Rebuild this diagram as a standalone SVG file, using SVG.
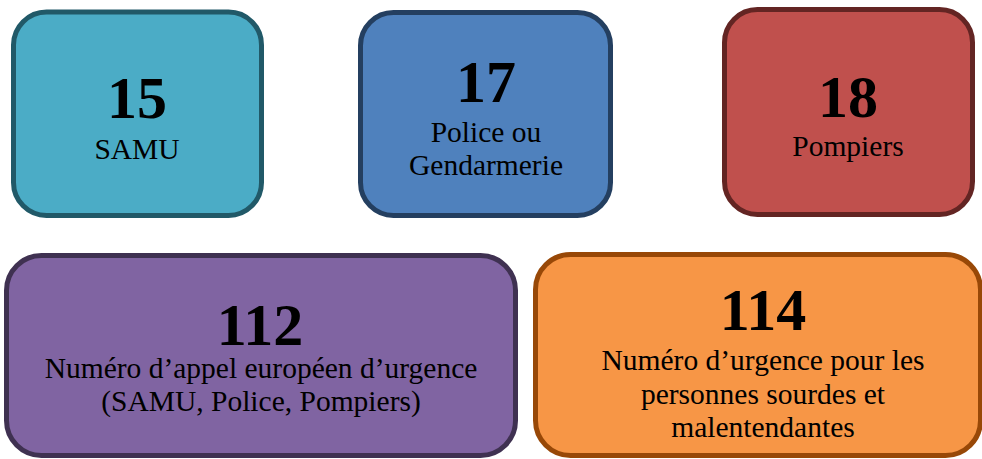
<svg xmlns="http://www.w3.org/2000/svg" width="982" height="459" viewBox="0 0 982 459">
<style>
.box{stroke-width:5}
.num{font-family:"Liberation Serif","Times New Roman",serif;font-weight:bold;font-size:60px;text-anchor:middle;fill:#000}
.lbl{font-family:"Liberation Serif","Times New Roman",serif;font-size:29.5px;text-anchor:middle;fill:#000}
</style>
<rect width="982" height="459" fill="#fff"/>
<g id="n15">
<rect class="box" x="13.5" y="12" width="248" height="203.5" rx="33" fill="#4BACC6" stroke="#215968"/>
<text class="num" x="137" y="118">15</text>
<text class="lbl" x="137" y="159">SAMU</text>
</g>
<g id="n17">
<rect class="box" x="360.5" y="12.5" width="250" height="203" rx="33" fill="#4F81BD" stroke="#243F60"/>
<text class="num" x="486" y="102">17</text>
<text class="lbl" x="486" y="142">Police ou</text>
<text class="lbl" x="486" y="175">Gendarmerie</text>
</g>
<g id="n18">
<rect class="box" x="724.5" y="9.5" width="248" height="205" rx="33" fill="#C0504D" stroke="#632523"/>
<text class="num" x="848" y="117">18</text>
<text class="lbl" x="848" y="156">Pompiers</text>
</g>
<g id="n112">
<rect class="box" x="6.5" y="255.5" width="509" height="200" rx="35" fill="#8064A2" stroke="#3F3151"/>
<text class="num" x="260" y="345">112</text>
<text class="lbl" x="261" y="378">Numéro d’appel européen d’urgence</text>
<text class="lbl" x="261" y="411">(SAMU, Police, Pompiers)</text>
</g>
<g id="n114">
<rect class="box" x="535.5" y="254.5" width="445" height="201" rx="35" fill="#F79646" stroke="#984807"/>
<text class="num" x="763" y="330">114</text>
<text class="lbl" x="763" y="370">Numéro d’urgence pour les</text>
<text class="lbl" x="763" y="403.5">personnes sourdes et</text>
<text class="lbl" x="763" y="437">malentendantes</text>
</g>
<g id="connectors"></g>
</svg>
